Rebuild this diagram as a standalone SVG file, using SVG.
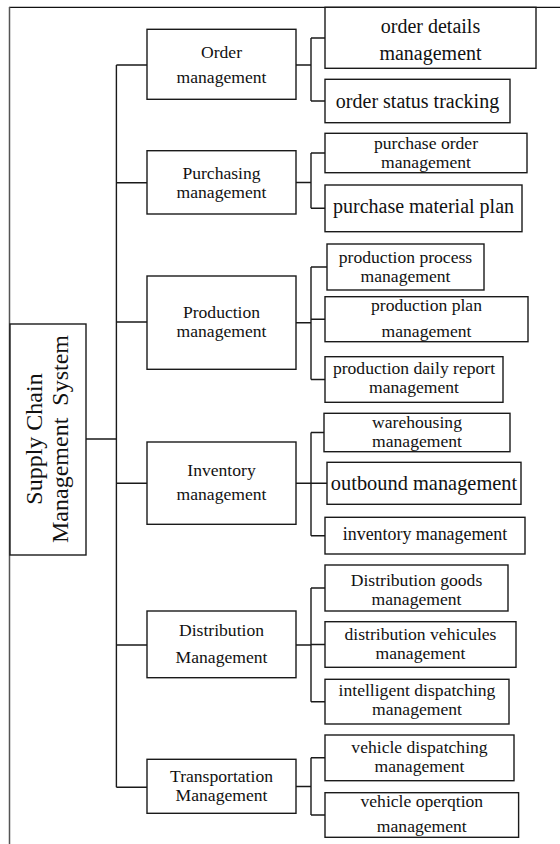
<svg xmlns="http://www.w3.org/2000/svg" width="560" height="844" viewBox="0 0 560 844">
<style>
.b{fill:#fff;stroke:#1a1a1a;stroke-width:1.4}
.t{font-family:"Liberation Serif","Times New Roman",serif;font-size:17.6px;fill:#111;text-anchor:middle}
.L{font-size:20px}
.c{fill:none;stroke:#1a1a1a;stroke-width:1.4}
</style>
<rect width="560" height="844" fill="#fff"/>
<g id="frame">
<line x1="9" y1="7.3" x2="560" y2="7.3" stroke="#111" stroke-width="1.3"/>
<line x1="9.5" y1="7" x2="9.5" y2="844" stroke="#555" stroke-width="1.5"/>
</g>
<g id="connectors" class="c">
<path d="M116.4 65V787.3M86 439H116.4"/>
<path d="M116.4 65H147M116.4 182.7H147M116.4 322H147M116.4 483.3H147M116.4 645H147M116.4 787.3H147"/>
<path d="M296 65H311M296 182.5H311M296 322.7H311M296 483.3H311M296 645H311M296 786.5H311"/>
<path d="M311 38V101M311 153V208.3M311 267V379.5M311 432.5V535.7M311 588V701.7M311 757.8V815"/>
<path d="M311 38H325M311 101H325M311 153H325M311 208.3H325M311 267H327M311 319.3H325M311 379.5H325M311 432.5H324M311 483.3H327M311 535.7H325M311 588H325M311 644.5H325M311 701.7H325M311 757.8H325M311 815H325"/>
</g>
<g id="root">
<rect class="b" x="10" y="324" width="76" height="231"/>
<text class="t" style="font-size:24px" transform="translate(42,439) rotate(-90)">Supply Chain</text>
<text class="t" style="font-size:24px" transform="translate(68,439) rotate(-90)" xml:space="preserve">Management  System</text>
</g>
<g id="order">
<rect class="b" x="147" y="29.3" width="149" height="70"/>
<text class="t" x="221.5" y="58.3">Order</text>
<text class="t" x="221.5" y="82.7">management</text>
</g>
<g id="order-details">
<rect class="b" x="325" y="7.3" width="211" height="61"/>
<text class="t L" x="430.5" y="33.3">order details</text>
<text class="t L" x="430.5" y="60">management</text>
</g>
<g id="order-status">
<rect class="b" x="325" y="79.3" width="185" height="43.4"/>
<text class="t L" x="417.5" y="108.3">order status tracking</text>
</g>
<g id="purchasing">
<rect class="b" x="147" y="150.7" width="149" height="63.3"/>
<text class="t" x="221.5" y="178.5">Purchasing</text>
<text class="t" x="221.5" y="197.5">management</text>
</g>
<g id="purchase-order">
<rect class="b" x="325" y="133.3" width="202" height="39.4"/>
<text class="t" x="426" y="148.5">purchase order</text>
<text class="t" x="426" y="167.5">management</text>
</g>
<g id="purchase-material">
<rect class="b" x="325" y="185" width="197" height="46.7"/>
<text class="t L" x="423.5" y="213.3">purchase material plan</text>
</g>
<g id="production">
<rect class="b" x="147" y="276" width="149" height="93.3"/>
<text class="t" x="221.5" y="317.5">Production</text>
<text class="t" x="221.5" y="337">management</text>
</g>
<g id="production-process">
<rect class="b" x="327" y="244" width="157" height="46"/>
<text class="t" x="405.5" y="262.5">production process</text>
<text class="t" x="405.5" y="281.5">management</text>
</g>
<g id="production-plan">
<rect class="b" x="325" y="296.7" width="203" height="45"/>
<text class="t" x="426.5" y="311">production plan</text>
<text class="t" x="426.5" y="336.7">management</text>
</g>
<g id="production-daily">
<rect class="b" x="325" y="356.7" width="178" height="45.6"/>
<text class="t" x="414" y="374">production daily report</text>
<text class="t" x="414" y="393">management</text>
</g>
<g id="inventory">
<rect class="b" x="147" y="442" width="149" height="82.3"/>
<text class="t" x="221.5" y="476">Inventory</text>
<text class="t" x="221.5" y="500">management</text>
</g>
<g id="warehousing">
<rect class="b" x="324" y="413.3" width="186" height="38.4"/>
<text class="t" x="417" y="427.5">warehousing</text>
<text class="t" x="417" y="446.5">management</text>
</g>
<g id="outbound">
<rect class="b" x="327" y="462.3" width="194" height="42"/>
<text class="t" style="font-size:20.4px" x="424" y="490">outbound management</text>
</g>
<g id="inventory-mgmt">
<rect class="b" x="325" y="517.3" width="200" height="36.7"/>
<text class="t" style="font-size:17.9px" x="425" y="540">inventory management</text>
</g>
<g id="distribution">
<rect class="b" x="147" y="611" width="149" height="66.7"/>
<text class="t" x="221.5" y="636">Distribution</text>
<text class="t" x="221.5" y="663.3">Management</text>
</g>
<g id="distribution-goods">
<rect class="b" x="325" y="565" width="183" height="46"/>
<text class="t" x="416.5" y="585.5">Distribution goods</text>
<text class="t" x="416.5" y="604.5">management</text>
</g>
<g id="distribution-vehicules">
<rect class="b" x="325" y="621.7" width="191" height="45.6"/>
<text class="t" x="420.5" y="640">distribution vehicules</text>
<text class="t" x="420.5" y="659">management</text>
</g>
<g id="intelligent-dispatching">
<rect class="b" x="325" y="679.3" width="184" height="44.7"/>
<text class="t" x="417" y="696">intelligent dispatching</text>
<text class="t" x="417" y="715">management</text>
</g>
<g id="transportation">
<rect class="b" x="147" y="759.3" width="149" height="54"/>
<text class="t" x="221.5" y="782">Transportation</text>
<text class="t" x="221.5" y="801">Management</text>
</g>
<g id="vehicle-dispatching">
<rect class="b" x="325" y="735" width="189" height="45.7"/>
<text class="t" x="419.5" y="752.5">vehicle dispatching</text>
<text class="t" x="419.5" y="771.5">management</text>
</g>
<g id="vehicle-operation">
<rect class="b" x="325" y="792.7" width="193.6" height="44.6"/>
<text class="t" x="421.8" y="806.7">vehicle operqtion</text>
<text class="t" x="421.8" y="831.7">management</text>
</g>
</svg>
